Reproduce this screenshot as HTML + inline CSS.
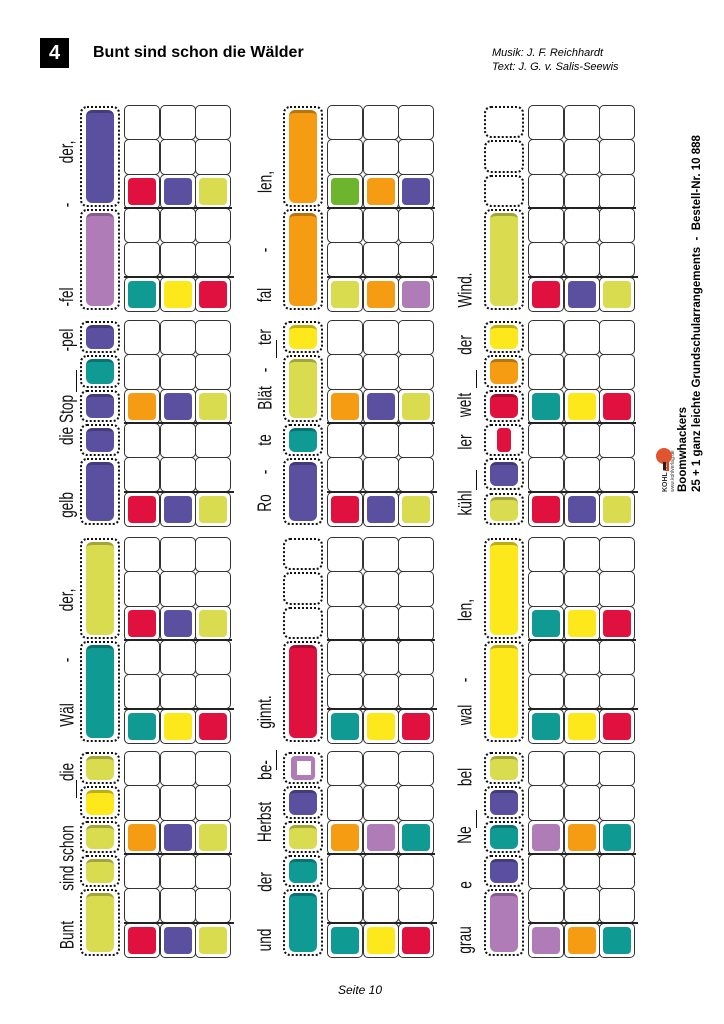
<!DOCTYPE html>
<html><head><meta charset="utf-8">
<style>
body{margin:0;background:#fff;}
#pg{position:relative;width:724px;height:1024px;overflow:hidden;background:#fff;font-family:"Liberation Sans",sans-serif;}
.a{position:absolute;}
.cell{position:absolute;border:1px solid #333;border-radius:5px;box-sizing:border-box;background:#fff;}
.sq{position:absolute;border-radius:4px;}
.dot{position:absolute;border:2.5px dotted #111;border-radius:7px;box-sizing:border-box;}
.bar{position:absolute;border-radius:6px;border-top:3px solid rgba(0,0,0,0.25);box-sizing:border-box;}
.ly{position:absolute;white-space:nowrap;font-size:19px;transform-origin:center center;color:#111;}
</style></head><body>
<div id="pg">
<div class="a" style="left:40px;top:38px;width:29px;height:30px;background:#000;color:#fff;font-weight:bold;font-size:20px;text-align:center;line-height:30px;">4</div>
<div class="a" style="left:93px;top:44px;font-weight:bold;font-size:16px;">Bunt sind schon die Wälder</div>
<div class="a" style="left:492px;top:46px;font-style:italic;font-size:11px;line-height:14px;">Musik: J. F. Reichhardt<br>Text: J. G. v. Salis-Seewis</div>
<div class="a" style="left:338px;top:983px;font-style:italic;font-size:12px;">Seite 10</div>
<div class="a" style="left:676px;top:492px;transform-origin:0 0;transform:rotate(-90deg);white-space:nowrap;font-size:11.5px;line-height:14px;"><b>Boomwhackers</b><br><b>25 + 1 ganz leichte Grundschularrangements &nbsp;- &nbsp;Bestell-Nr. 10 888</b></div>
<div class="a" style="left:662px;top:492px;transform-origin:0 0;transform:rotate(-90deg);white-space:nowrap;font-size:5px;line-height:7px;color:#333;"><b style="font-size:7px">KOHL</b> <span style="background:#e04020;color:#fff">VERLAG</span><br>www.kohlverlag.de</div>
<div class="a" style="left:656px;top:448px;width:16px;height:16px;background:#e05530;border-radius:50%;"></div>
<div class="a" style="left:663px;top:462px;width:3px;height:8px;background:#222;"></div>
</div>
<script>
var C={p:"#5b4fa0",m:"#b07cb8",t:"#0f9a93",r:"#e0113f",y:"#fde81c",l:"#d9dc4e",o:"#f59c12",g:"#6db52c"};
var pg=document.getElementById('pg');
function el(cls,st,txt){var d=document.createElement('div');d.className=cls;d.setAttribute('style',st);if(txt)d.textContent=txt;pg.appendChild(d);return d;}
var colX=[80,283,484], blockY=[105,320,537,751], RH=34.3;
var D=[
[{r2:"rpl",r5:"tyr",seg:[[0,3,"p"],[3,3,"m"]]},
 {r2:"opl",r5:"rpl",seg:[[0,1,"p"],[1,1,"t"],[2,1,"p"],[3,1,"p"],[4,2,"p"]]},
 {r2:"rpl",r5:"tyr",seg:[[0,3,"l"],[3,3,"t"]]},
 {r2:"opl",r5:"rpl",seg:[[0,1,"l"],[1,1,"y"],[2,1,"l"],[3,1,"l"],[4,2,"l"]]}],
[{r2:"gop",r5:"lom",seg:[[0,3,"o"],[3,3,"o"]]},
 {r2:"opl",r5:"rpl",seg:[[0,1,"y"],[1,2,"l"],[3,1,"t"],[4,2,"p"]]},
 {r2:"",r5:"tyr",seg:[[0,1,""],[1,1,""],[2,1,""],[3,3,"r"]]},
 {r2:"omt",r5:"tyr",seg:[[0,1,"M"],[1,1,"p"],[2,1,"l"],[3,1,"t"],[4,2,"t"]]}],
[{r2:"",r5:"rpl",seg:[[0,1,""],[1,1,""],[2,1,""],[3,3,"l"]]},
 {r2:"tyr",r5:"rpl",seg:[[0,1,"y"],[1,1,"o"],[2,1,"r"],[3,1,"R"],[4,1,"p"],[5,1,"l"]]},
 {r2:"tyr",r5:"tyr",seg:[[0,3,"y"],[3,3,"y"]]},
 {r2:"mot",r5:"mot",seg:[[0,1,"l"],[1,1,"p"],[2,1,"t"],[3,1,"p"],[4,2,"m"]]}]
];
for(var c=0;c<3;c++)for(var b=0;b<4;b++){
 var x0=colX[c],y0=blockY[b],d=D[c][b];
 var gx=x0+44;
 for(var k=0;k<3;k++){
  for(var r=0;r<6;r++){
   el('cell','left:'+(gx+k*35.5)+'px;top:'+(y0+r*RH)+'px;width:36px;height:'+(RH+1)+'px;');
  }
  [["r2",2],["r5",5]].forEach(function(q){
   var s=d[q[0]];if(!s)return;
   el('sq','left:'+(gx+k*35.5+4)+'px;top:'+(y0+q[1]*RH+4)+'px;width:28px;height:'+(RH-7)+'px;background:'+C[s[k]]+';');
  });
 }
 el('a','left:'+gx+'px;top:'+(y0+3*RH-1)+'px;width:108px;height:2px;background:#222;');
 el('a','left:'+gx+'px;top:'+(y0+5*RH-1)+'px;width:110px;height:2px;background:#222;');
 d.seg.forEach(function(s){
  var top=y0+s[0]*RH+1,h=s[1]*RH-2;
  el('dot','left:'+x0+'px;top:'+top+'px;width:40px;height:'+h+'px;');
  if(s[2]==="M"){el('a','left:'+(x0+8)+'px;top:'+(top+4)+'px;width:24px;height:'+(h-8)+'px;background:'+C.m+';border-radius:4px;');
   el('a','left:'+(x0+14)+'px;top:'+(top+9)+'px;width:14px;height:'+(h-18)+'px;background:#fff;');}
  else if(s[2]==="R"){el('a','left:'+(x0+13)+'px;top:'+(top+4)+'px;width:14px;height:'+(h-8)+'px;background:'+C.r+';border-radius:4px;');}
  else if(s[2]){el('bar','left:'+(x0+6)+'px;top:'+(top+4)+'px;width:28px;height:'+(h-8)+'px;background:'+C[s[2]]+';');}
 });
}
var L=[
[68,[["-fel",297],["-",205],["der,",152],["gelb",505],["die Stop",420],["-pel",340],["Wäl",715],["-",660],["der,",600],["Bunt",935],["sind schon",858],["die",772]]],
[266,[["fal",295],["-",250],["len,",182],["Ro",503],["-",472],["te",440],["Blät",398],["-",370],["ter",337],["ginnt.",712],["und",940],["der",882],["Herbst",822],["be-",770]]],
[466,[["Wind.",290],["kühl",503],["ler",442],["welt",405],["der",345],["wal",715],["-",680],["len,",610],["grau",940],["e",885],["Ne",835],["bel",777]]]
];
L.forEach(function(g){g[1].forEach(function(w){
 var s=el('ly','left:'+g[0]+'px;top:'+w[1]+'px;',w[0]);
 var wd=s.offsetWidth,ht=s.offsetHeight;
 s.style.left=(g[0]-wd/2)+'px';s.style.top=(w[1]-ht/2)+'px';
 s.style.transform='rotate(-90deg) scaleX(0.72)';
});});
[[64,370,22],[264,750,20],[264,340,18],[464,470,20],[464,370,18],[464,810,18],[64,780,18]].forEach(function(u){
 el('a','left:'+(u[0]+12)+'px;top:'+u[1]+'px;width:1px;height:'+u[2]+'px;background:#111;');
});
</script>
</body></html>
